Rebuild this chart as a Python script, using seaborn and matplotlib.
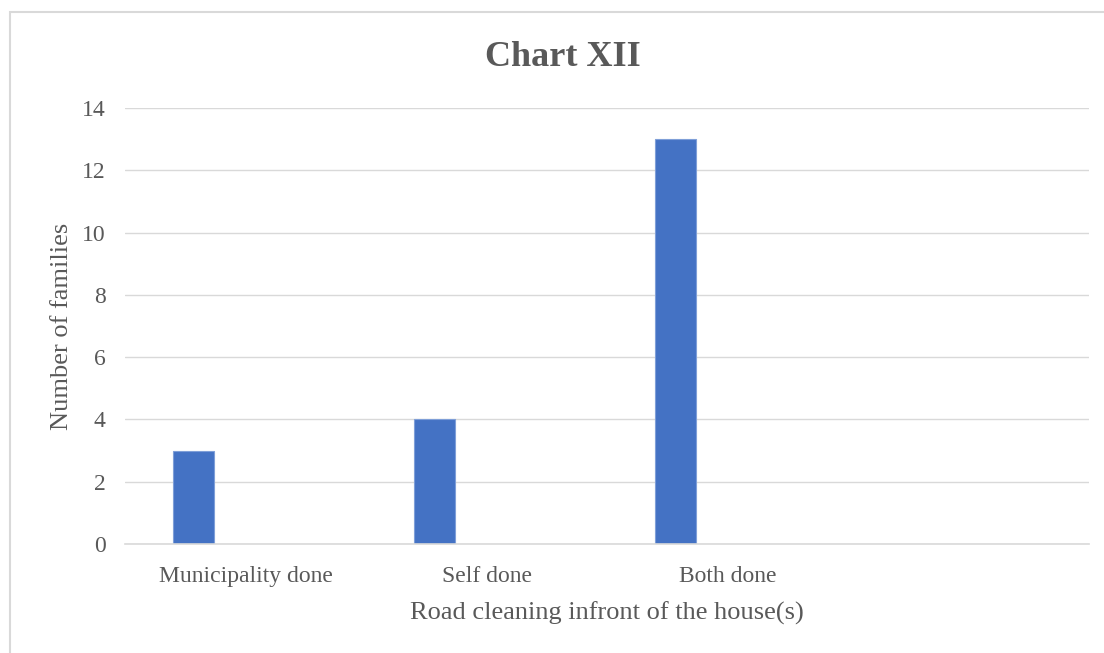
import matplotlib
matplotlib.use("Agg")
import matplotlib.pyplot as plt
import seaborn as sns
import pandas as pd
from matplotlib.patches import Rectangle

# Survey counts: who cleans the road in front of the house
categories = ["Municipality done", "Self done", "Both done"]
families = [3, 4, 13]
series_names = ["Number of families", "Series2"]
axis_slots = categories + [" "]
y_ticks = [0, 2, 4, 6, 8, 10, 12, 14]

title = "Chart XII"
x_title = "Road cleaning infront of the house(s)"
y_title = "Number of families"

text_color = "#595959"
grid_color = "#d9d9d9"
bar_color = "#4472C4"

sns.set_theme(style="white")
plt.rcParams["font.family"] = ["Liberation Serif", "DejaVu Serif"]

df = pd.DataFrame({
    "category": categories,
    "value": families,
    "series": [series_names[0]] * len(categories),
})

fig = plt.figure(figsize=(11.04, 6.53), dpi=100)
ax = fig.add_axes([125 / 1104, 1 - 544 / 653, (1089 - 125) / 1104, (544 - 108) / 653])

sns.barplot(
    data=df, x="category", y="value", hue="series",
    order=axis_slots, hue_order=series_names,
    palette=[bar_color, bar_color], width=0.864, gap=0.6,
    dodge=True, legend=False, ax=ax,
    edgecolor="#7f9fd8", linewidth=0.8, saturation=1,
)

ax.set_xlim(-0.5, len(axis_slots) - 0.5)
ax.set_ylim(0, 14)
ax.set_yticks(y_ticks)
ax.set_yticklabels([str(t) for t in y_ticks])
ax.yaxis.grid(True, color=grid_color, linewidth=1)
ax.set_axisbelow(True)
for side in ["left", "right", "top"]:
    ax.spines[side].set_visible(False)
ax.spines["bottom"].set_color(grid_color)
ax.spines["bottom"].set_linewidth(1.2)

ax.tick_params(axis="y", length=0, pad=14, labelsize=17, labelcolor=text_color)
ax.tick_params(axis="x", length=0, pad=16, labelsize=17, labelcolor=text_color)

ax.set_xlabel(x_title, fontsize=19, color=text_color, labelpad=10)
ax.set_ylabel(y_title, fontsize=19, color=text_color, labelpad=6)

fig.text(563 / 1104, 1 - 57 / 653, title, ha="center", va="center",
         fontsize=26, fontweight="bold", color=text_color)

# chart frame
fig.patches.append(Rectangle((9.5 / 1104, -0.1), 1.2, 1 - 11.5 / 653 + 0.1,
                             transform=fig.transFigure, fill=False,
                             edgecolor=grid_color, linewidth=1.5))

fig.savefig("out.png", dpi=100, facecolor="white")
